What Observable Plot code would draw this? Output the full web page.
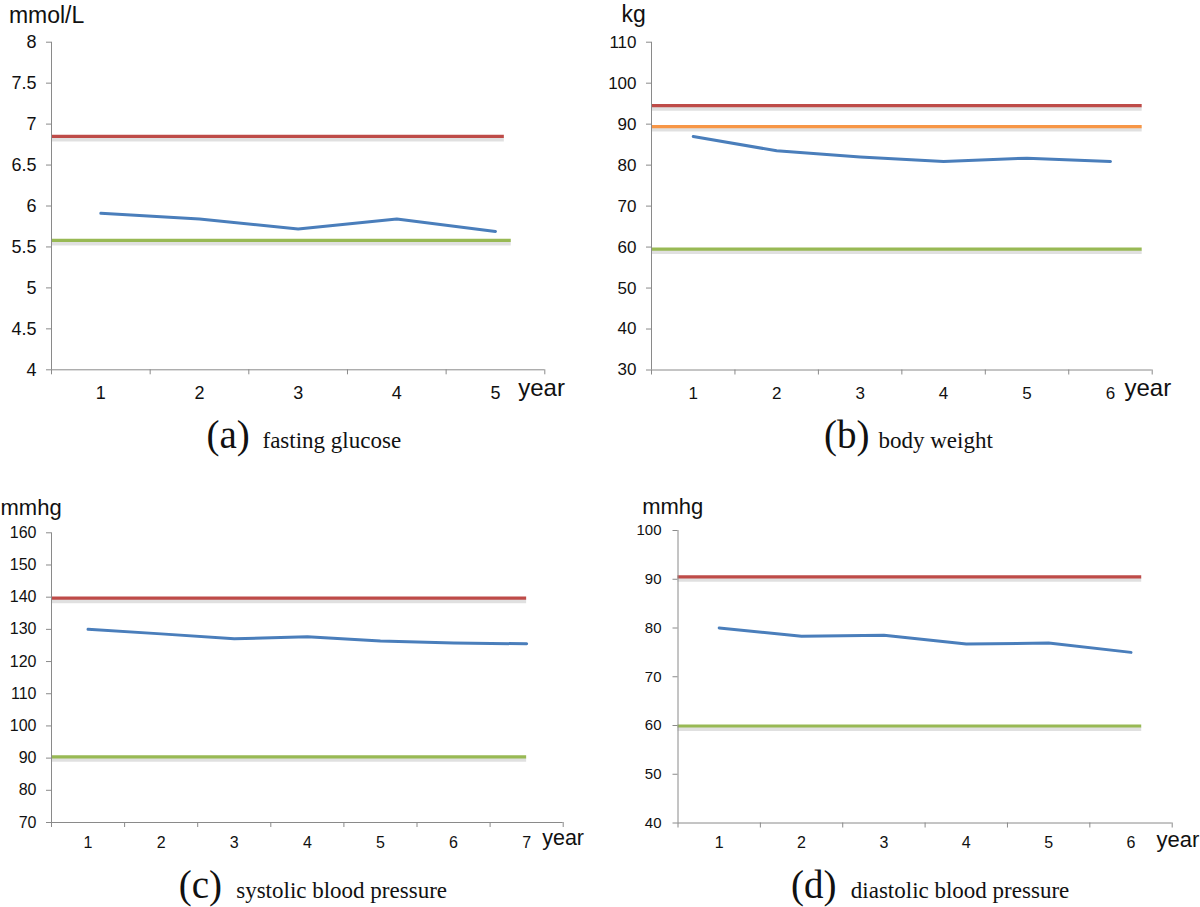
<!DOCTYPE html>
<html>
<head>
<meta charset="utf-8">
<script src="https://cdn.jsdelivr.net/npm/d3@7"></script>
<script src="https://cdn.jsdelivr.net/npm/@observablehq/plot@0.6"></script>
<style>
  html, body { margin: 0; padding: 0; background: #ffffff; }
  #root { position: relative; width: 1200px; height: 907px; overflow: hidden; background: #fff; }
  #root svg { position: absolute; }
</style>
</head>
<body>
<div id="root"></div>
<script>
// ---------- data ----------
const glucoseYears = [1, 2, 3, 4, 5];
const glucose = [5.91, 5.84, 5.72, 5.84, 5.69];
const glucoseTicks = [4, 4.5, 5, 5.5, 6, 6.5, 7, 7.5, 8];
const glucoseRefs = [
  {name: "upper", value: 6.85, end: 5.09},
  {name: "lower", value: 5.58, end: 5.16}
];

const weightYears = [1, 2, 3, 4, 5, 6];
const weight = [87.0, 83.5, 82.0, 80.9, 81.7, 80.9];
const weightTicks = [30, 40, 50, 60, 70, 80, 90, 100, 110];
const weightRefs = [
  {name: "upper", value: 94.5, end: 6.38},
  {name: "middle", value: 89.4, end: 6.38},
  {name: "lower", value: 59.5, end: 6.38}
];

const sbpYears = [1, 2, 3, 4, 5, 6, 7];
const sbp = [130.0, 128.6, 127.1, 127.7, 126.4, 125.8, 125.5];
const sbpTicks = [70, 80, 90, 100, 110, 120, 130, 140, 150, 160];
const sbpRefs = [
  {name: "upper", value: 139.7, end: 7.0},
  {name: "lower", value: 90.4, end: 7.0}
];

const dbpYears = [1, 2, 3, 4, 5, 6];
const dbp = [80.0, 78.3, 78.5, 76.7, 76.9, 75.0];
const dbpTicks = [40, 50, 60, 70, 80, 90, 100];
const dbpRefs = [
  {name: "upper", value: 90.5, end: 6.13},
  {name: "lower", value: 59.9, end: 6.13}
];

// ---------- styles ----------
const refColors = {upper: "#BE4B48", middle: "#F79646", lower: "#98B954"};
const seriesColor = "#4A7EBB";
const axisGray = "#8a8a8a";
const SANS = "'Liberation Sans', Arial, Helvetica, sans-serif";
const SERIF = "'Liberation Serif', 'Times New Roman', serif";

function panel(cfg) {
  const {years, values, ticks, refs, m, W, H} = cfg;
  const n = years.length;
  const x0 = 0.5, x1 = n + 0.5;
  const bounds = d3.range(n + 1).map(i => i + 0.5);
  const rows = years.map((yr, i) => ({year: yr, value: values[i]}));
  const ymin = ticks[0], ymax = ticks[ticks.length - 1];

  const txt = (s, x, base, size, family) => Plot.text([s], {
    text: d => d, frameAnchor: "top-left",
    dx: x - m.left, dy: base - m.top,
    textAnchor: "start", lineAnchor: "bottom",
    fontSize: size, fontFamily: family, fill: "#111"
  });

  const marks = [];
  for (const r of refs) {
    marks.push(Plot.ruleY([r], {y: "value", x1: () => x0, x2: "end",
      stroke: "#000", strokeOpacity: 0.12, strokeWidth: 4, dy: 3}));
  }
  for (const r of refs) {
    marks.push(Plot.ruleY([r], {y: "value", x1: () => x0, x2: "end",
      stroke: refColors[r.name], strokeWidth: 3.2}));
  }
  marks.push(Plot.line(rows, {x: "year", y: "value", stroke: seriesColor, strokeWidth: 3}));
  marks.push(Plot.ruleX([x0], {stroke: axisGray, strokeWidth: 1}));
  marks.push(Plot.ruleY([ymin], {stroke: axisGray, strokeWidth: 1}));
  marks.push(Plot.axisY({ticks, tickSize: 5, tickPadding: cfg.yPad, fontSize: cfg.yFont,
    stroke: axisGray, tickFormat: d => String(d), fontFamily: SANS, label: null}));
  marks.push(Plot.axisX({ticks: bounds, tickSize: 5, tickFormat: () => "", stroke: axisGray, label: null}));
  marks.push(Plot.axisX({ticks: years, tickSize: 0, tickPadding: cfg.xPad, fontSize: cfg.xFont,
    tickFormat: d => String(d), fontFamily: SANS, label: null}));
  for (const t of cfg.texts) marks.push(txt(...t));

  const svg = Plot.plot({
    width: W, height: H,
    marginLeft: m.left, marginRight: m.right, marginTop: m.top, marginBottom: m.bottom,
    x: {type: "linear", domain: [x0, x1], label: null},
    y: {type: "linear", domain: [ymin, ymax], label: null},
    style: {fontFamily: SANS, color: "#111", background: "transparent", overflow: "visible"},
    marks
  });
  svg.style.left = cfg.left + "px";
  svg.style.top = cfg.top + "px";
  return svg;
}

const root = document.getElementById("root");

root.appendChild(panel({
  left: 0, top: 0, W: 600, H: 460,
  years: glucoseYears, values: glucose, ticks: glucoseTicks, refs: glucoseRefs,
  m: {left: 51, right: 55.7, top: 41.7, bottom: 90.7},
  yPad: 10, yFont: 18, xPad: 16.4, xFont: 18,
  texts: [
    ["mmol/L", 8.4, 22, 23, SANS],
    ["year", 517.7, 395, 24, SANS],
    ["(a)", 206, 447, 39, SERIF],
    ["fasting glucose", 262, 447, 23, SERIF]
  ]
}));

root.appendChild(panel({
  left: 600, top: 0, W: 600, H: 460,
  years: weightYears, values: weight, ticks: weightTicks, refs: weightRefs,
  m: {left: 51, right: 48.3, top: 41.7, bottom: 90.5},
  yPad: 10, yFont: 17, xPad: 17.4, xFont: 17,
  texts: [
    ["kg", 21, 21, 23, SANS],
    ["year", 524, 395, 24, SANS],
    ["(b)", 223.5, 447, 39, SERIF],
    ["body weight", 278, 447, 23, SERIF]
  ]
}));

root.appendChild(panel({
  left: 0, top: 460, W: 600, H: 447,
  years: sbpYears, values: sbp, ticks: sbpTicks, refs: sbpRefs,
  m: {left: 51, right: 37.3, top: 72.3, bottom: 85},
  yPad: 10, yFont: 16, xPad: 13.9, xFont: 16,
  texts: [
    ["mmhg", 0, 54, 22, SANS],
    ["year", 541.7, 384.3, 21.5, SANS],
    ["(c)", 178.2, 437, 39, SERIF],
    ["systolic blood pressure", 235.7, 437, 23, SERIF]
  ]
}));

root.appendChild(panel({
  left: 600, top: 460, W: 600, H: 447,
  years: dbpYears, values: dbp, ticks: dbpTicks, refs: dbpRefs,
  m: {left: 77.5, right: 28.3, top: 70, bottom: 84.5},
  yPad: 11.5, yFont: 15, xPad: 13.8, xFont: 16,
  texts: [
    ["mmhg", 41.7, 53.3, 22, SANS],
    ["year", 556, 386, 22, SANS],
    ["(d)", 190.5, 437, 39, SERIF],
    ["diastolic blood pressure", 250.3, 437, 23, SERIF]
  ]
}));
</script>
</body>
</html>
